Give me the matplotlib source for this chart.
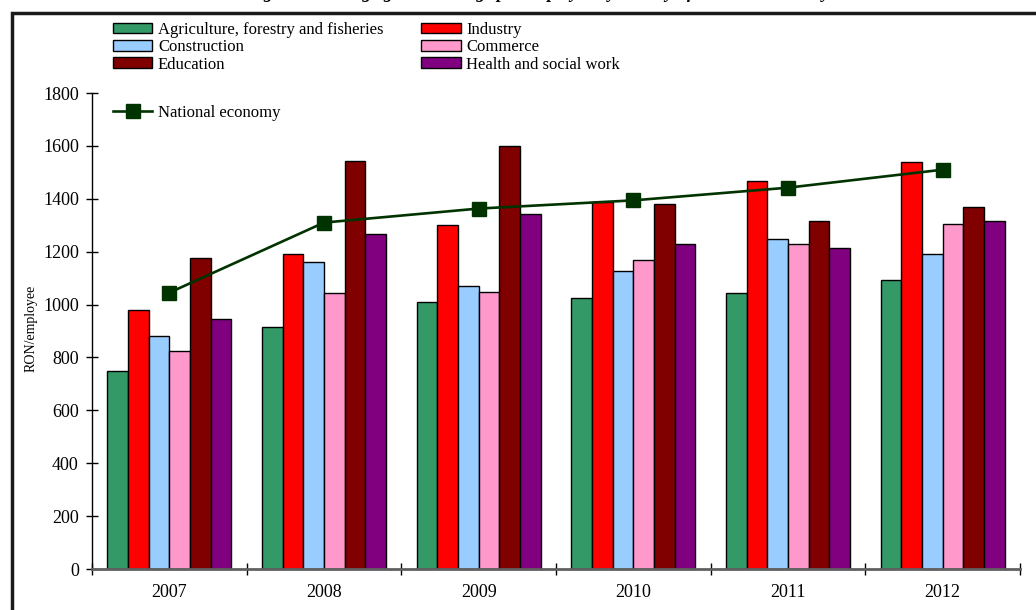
import numpy as np
import matplotlib
matplotlib.use("Agg")
import matplotlib.pyplot as plt
from matplotlib.patches import Rectangle, Patch

plt.rcParams['font.family'] = ['Liberation Serif', 'DejaVu Serif']

# data (RON/employee)
years = ['2007', '2008', '2009', '2010', '2011', '2012']
agriculture = [750, 915, 1008, 1024, 1044, 1094]
industry = [978, 1192, 1300, 1386, 1467, 1540]
construction = [880, 1161, 1070, 1126, 1248, 1192]
commerce = [824, 1044, 1049, 1167, 1228, 1304]
education = [1177, 1541, 1598, 1382, 1316, 1370]
health = [946, 1268, 1341, 1229, 1213, 1316]
national = [1045, 1310, 1363, 1394, 1442, 1510]

series = [agriculture, industry, construction, commerce, education, health]
names = ['Agriculture, forestry and fisheries', 'Industry', 'Construction',
         'Commerce', 'Education', 'Health and social work']
colors = ['#339966', '#FF0000', '#99CCFF', '#FF99CC', '#800000', '#800080']

W, H = 1036, 610
fig = plt.figure(figsize=(W / 100, H / 100), dpi=100)
ax = fig.add_axes([92 / W, 1 - 569 / H, (1020 - 92) / W, (569 - 93) / H])

x = np.arange(len(years))
bw = 0.8 / len(series)
for k, (vals, c) in enumerate(zip(series, colors)):
    ax.bar(x - 0.4 + bw * (k + 0.5), vals, bw, color=c, edgecolor='black', linewidth=1)

line, = ax.plot(x, national, color='#003300', lw=1.9, marker='s', ms=10,
                markerfacecolor='#003300', markeredgecolor='#003300')

ax.set_xlim(-0.5, 5.5)
ax.set_ylim(0, 1800)
ax.set_yticks(np.arange(0, 1801, 200))
ax.set_xticks(np.arange(-0.5, 5.6, 1))
ax.set_xticklabels([])
ax.set_xticks(x, minor=True)
ax.set_xticklabels(years, minor=True)
ax.tick_params(axis='x', which='major', direction='inout', length=9, width=1)
ax.tick_params(axis='x', which='minor', length=0, pad=11, labelsize=13)
ax.tick_params(axis='y', direction='inout', length=9, width=1, labelsize=13, pad=5)
for s in ['top', 'right']:
    ax.spines[s].set_visible(False)
ax.spines['bottom'].set_color('#606060')
ax.spines['bottom'].set_linewidth(2)
ax.spines['left'].set_linewidth(1)

fig.text(31 / W, 1 - 328 / H, 'RON/employee', rotation=90, ha='center', va='center', fontsize=10)

# legends
order = [0, 2, 4, 1, 3, 5]
handles = [Patch(facecolor=colors[i], edgecolor='black', linewidth=1) for i in order]
fig.legend(handles, [names[i] for i in order], ncol=2, loc='upper left',
           bbox_to_anchor=(113 / W, 1 - 22 / H), frameon=False, fontsize=12,
           borderpad=0, borderaxespad=0, handlelength=2.35, handleheight=0.6,
           handletextpad=0.35, labelspacing=0.08, columnspacing=2.27)
fig.legend([line], ['National economy'], loc='upper left',
           bbox_to_anchor=(113 / W, 1 - 105 / H), frameon=False, fontsize=12,
           borderpad=0, borderaxespad=0, handlelength=2.35, handletextpad=0.35)

# outer frame and the clipped title above it
fig.add_artist(Rectangle((12 / W, -0.2), 1.2, 1.2 - 12.5 / H, transform=fig.transFigure,
                         fill=False, lw=2.5, edgecolor='#1a1a1a'))
fig.text(0.52, 1 + 1.5 / H, 'Figure 1. Average gross earnings per employee by activity of national economy',
         ha='center', va='baseline', fontsize=13, fontweight='bold', fontstyle='italic')

fig.savefig('out.png', dpi=100)
